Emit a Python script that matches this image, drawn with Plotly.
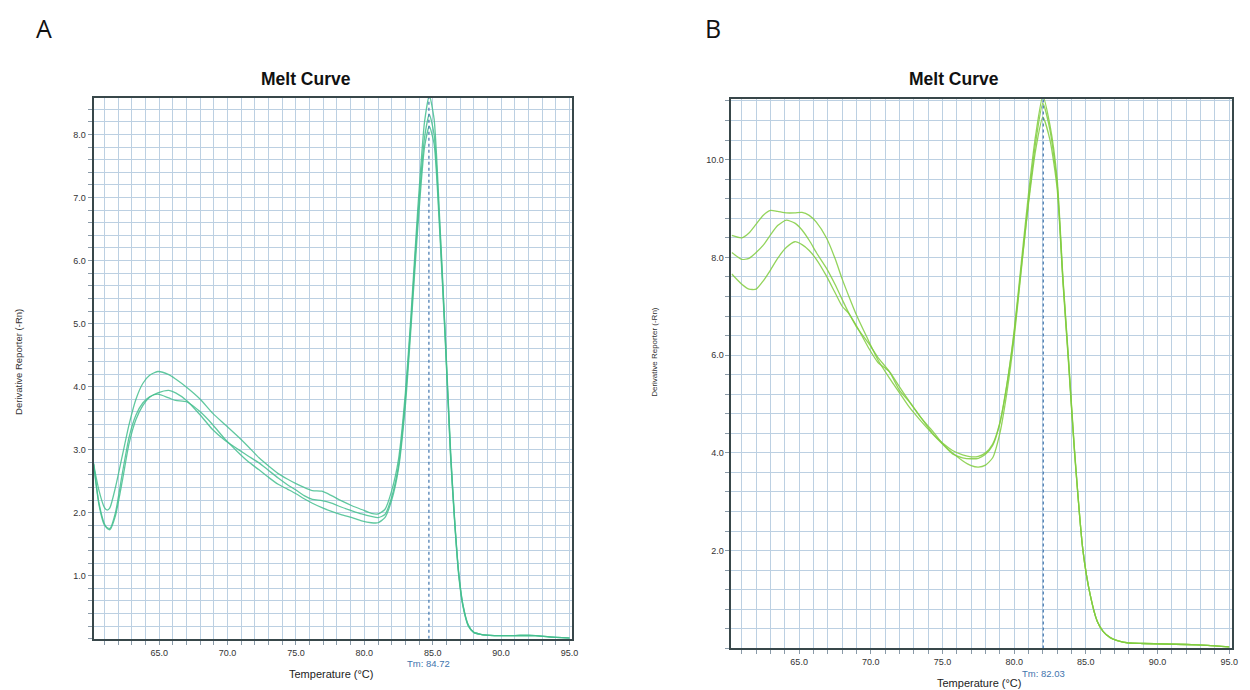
import plotly.graph_objects as go

# ---------------- data ----------------
a_temp = [60.2, 60.6, 61.0, 61.2, 61.4, 61.8, 62.3, 62.8, 63.3, 63.8, 64.3, 64.9, 65.7, 66.2, 67.0,
          68.0, 68.9, 69.8, 70.8, 71.5, 72.3, 73.0, 73.7, 74.4, 75.0, 75.6, 76.2, 76.9, 77.6, 78.3,
          79.1, 79.8, 80.5, 81.0, 81.5, 82.0, 82.5, 83.0, 83.4, 83.9, 84.4, 84.75, 85.1, 85.5, 85.9,
          86.3, 86.6, 86.9, 87.2, 87.6, 88.0, 88.5, 89.5, 91.0, 92.5, 93.5, 95.0]
a_well_1 = [2.78, 2.35, 2.08, 2.04, 2.08, 2.40, 2.90, 3.40, 3.80, 4.05, 4.18, 4.24, 4.19, 4.12, 3.99,
            3.80, 3.58, 3.40, 3.20, 3.05, 2.87, 2.74, 2.62, 2.53, 2.46, 2.40, 2.35, 2.34, 2.27, 2.19,
            2.11, 2.05, 1.99, 1.98, 2.05, 2.35, 2.85, 3.90, 5.10, 6.80, 8.20, 8.62, 8.25, 6.70, 4.90,
            3.00, 1.90, 1.05, 0.55, 0.22, 0.10, 0.07, 0.05, 0.05, 0.05, 0.03, 0.01]
a_well_2 = [2.78, 2.15, 1.82, 1.75, 1.73, 1.95, 2.50, 3.10, 3.48, 3.70, 3.83, 3.90, 3.94, 3.90, 3.78,
            3.55, 3.32, 3.15, 3.00, 2.90, 2.79, 2.67, 2.55, 2.44, 2.36, 2.27, 2.21, 2.19, 2.15, 2.09,
            2.03, 1.98, 1.94, 1.92, 1.97, 2.25, 2.75, 3.80, 5.00, 6.65, 7.95, 8.32, 8.00, 6.60, 4.85,
            2.95, 1.88, 1.03, 0.54, 0.21, 0.10, 0.07, 0.05, 0.05, 0.05, 0.03, 0.01]
a_well_3 = [2.78, 2.12, 1.80, 1.76, 1.75, 2.00, 2.62, 3.20, 3.55, 3.74, 3.84, 3.88, 3.82, 3.78, 3.76,
            3.60, 3.40, 3.17, 2.95, 2.81, 2.68, 2.56, 2.45, 2.37, 2.30, 2.22, 2.15, 2.08, 2.02, 1.97,
            1.92, 1.87, 1.84, 1.84, 1.92, 2.20, 2.70, 3.70, 4.90, 6.50, 7.80, 8.13, 7.85, 6.50, 4.80,
            2.90, 1.85, 1.00, 0.52, 0.20, 0.10, 0.07, 0.05, 0.05, 0.05, 0.03, 0.01]

b_temp = [60.3, 61.0, 61.5, 62.0, 62.5, 63.0, 63.5, 64.1, 64.7, 65.2, 65.7, 66.2, 66.9, 67.5, 68.0,
          68.5, 69.0, 69.9, 70.5, 71.3, 72.0, 72.7, 73.5, 74.3, 75.0, 75.7, 76.4, 77.0, 77.5, 78.0,
          78.5, 79.0, 79.5, 80.0, 80.5, 81.0, 81.5, 82.0, 82.5, 83.0, 83.4, 83.8, 84.2, 84.8, 85.3,
          85.8, 86.2, 86.7, 87.2, 88.0, 89.0, 90.5, 92.0, 93.5, 95.0]
b_well_1 = [8.45, 8.40, 8.50, 8.68, 8.86, 8.96, 8.94, 8.91, 8.91, 8.92, 8.86, 8.72, 8.40, 7.98, 7.56,
            7.18, 6.82, 6.26, 5.90, 5.53, 5.23, 4.93, 4.65, 4.39, 4.18, 3.98, 3.90, 3.88, 3.89, 3.97,
            4.15, 4.60, 5.40, 6.50, 7.90, 9.30, 10.50, 11.30, 10.70, 9.60, 7.60, 5.90, 4.10, 2.00, 1.10,
            0.55, 0.35, 0.22, 0.16, 0.11, 0.10, 0.09, 0.08, 0.06, 0.03]
b_well_2 = [8.10, 7.96, 7.98, 8.10, 8.25, 8.46, 8.65, 8.76, 8.70, 8.56, 8.35, 8.10, 7.78, 7.45, 7.14,
            6.84, 6.60, 6.12, 5.85, 5.66, 5.35, 5.05, 4.72, 4.40, 4.20, 4.05, 3.96, 3.92, 3.93, 4.00,
            4.18, 4.62, 5.42, 6.45, 7.80, 9.10, 10.20, 10.87, 10.40, 9.40, 7.50, 5.80, 4.05, 2.00, 1.10,
            0.55, 0.35, 0.22, 0.16, 0.11, 0.10, 0.09, 0.08, 0.06, 0.03]
b_well_3 = [7.66, 7.45, 7.35, 7.35, 7.52, 7.74, 7.98, 8.20, 8.32, 8.26, 8.14, 7.96, 7.62, 7.28, 7.00,
            6.84, 6.58, 6.22, 5.95, 5.66, 5.28, 5.04, 4.72, 4.45, 4.19, 4.00, 3.84, 3.74, 3.71, 3.75,
            3.90, 4.40, 5.25, 6.35, 7.75, 9.15, 10.35, 11.15, 10.60, 9.50, 7.55, 5.85, 4.08, 2.00, 1.10,
            0.55, 0.35, 0.22, 0.16, 0.11, 0.10, 0.09, 0.08, 0.06, 0.03]

tm_a = 84.72
tm_b = 82.03
x_ticks = [65.0, 70.0, 75.0, 80.0, 85.0, 90.0, 95.0]
a_y_ticks = [1.0, 2.0, 3.0, 4.0, 5.0, 6.0, 7.0, 8.0]
b_y_ticks = [2.0, 4.0, 6.0, 8.0, 10.0]
a_y_max = 8.58
b_y_max = 11.24

# ---------------- figure ----------------
W, H = 1250, 690
A_COLOR = "rgba(68,190,142,0.85)"
B_COLOR = "rgba(128,204,62,0.85)"
GRID = "#bcd0e2"
AXLINE = "#38474a"
TM_COLOR = "#3f74ad"
FONT = "Liberation Sans, Arial, sans-serif"

fig = go.Figure()

for vals in (a_well_1, a_well_2, a_well_3):
    fig.add_trace(go.Scatter(x=a_temp, y=vals, mode="lines", xaxis="x", yaxis="y",
                             line=dict(color=A_COLOR, width=1.3, shape="spline", smoothing=0.6),
                             showlegend=False, hoverinfo="skip"))
for vals in (b_well_1, b_well_2, b_well_3):
    fig.add_trace(go.Scatter(x=b_temp, y=vals, mode="lines", xaxis="x2", yaxis="y2",
                             line=dict(color=B_COLOR, width=1.3, shape="spline", smoothing=0.6),
                             showlegend=False, hoverinfo="skip"))

# Tm lines
fig.add_trace(go.Scatter(x=[tm_a, tm_a], y=[0, a_y_max], mode="lines", xaxis="x", yaxis="y",
                         line=dict(color=TM_COLOR, width=1.2, dash="dot"), showlegend=False,
                         hoverinfo="skip"))
fig.add_trace(go.Scatter(x=[tm_b, tm_b], y=[0, b_y_max], mode="lines", xaxis="x2", yaxis="y2",
                         line=dict(color=TM_COLOR, width=1.2, dash="dot"), showlegend=False,
                         hoverinfo="skip"))


def px_x(p):
    return p / W


def px_y(p):
    return 1 - p / H


tickfont = dict(family=FONT, size=9, color="#333333")


def xaxis_cfg(left, right, xr, anchor):
    return dict(domain=[px_x(left), px_x(right)], range=xr, anchor=anchor,
                tickmode="array", tickvals=x_ticks, ticktext=[f"{v:.1f}" for v in x_ticks],
                tickfont=tickfont, ticks="outside", ticklen=4, tickcolor="#8a9aa8",
                ticklabeloverflow="allow",
                showgrid=True, gridcolor=GRID, gridwidth=1,
                minor=dict(tickmode="linear", tick0=60, dtick=1, showgrid=True, gridcolor=GRID,
                           gridwidth=1, ticks="outside", ticklen=4, tickcolor="#8a9aa8"),
                showline=True, linecolor=AXLINE, linewidth=2, mirror=True, zeroline=False)


def yaxis_cfg(bottom, top, yr, ticks, minor_dt, anchor):
    return dict(domain=[px_y(bottom), px_y(top)], range=yr, anchor=anchor,
                tickmode="array", tickvals=ticks, ticktext=[f"{v:.1f}" for v in ticks],
                tickfont=tickfont, ticks="outside", ticklen=4, tickcolor="#8a9aa8",
                showgrid=True, gridcolor=GRID, gridwidth=1,
                minor=dict(tickmode="linear", tick0=0, dtick=minor_dt, showgrid=True,
                           gridcolor=GRID, gridwidth=1, ticks="outside", ticklen=4,
                           tickcolor="#8a9aa8"),
                showline=True, linecolor=AXLINE, linewidth=2, mirror=True, zeroline=False)


fig.update_layout(
    width=W, height=H,
    margin=dict(l=0, r=0, t=0, b=0),
    paper_bgcolor="white", plot_bgcolor="white",
    font=dict(family=FONT, color="#333333"),
    xaxis=xaxis_cfg(94, 575, [60.2, 95.2], "y"),
    yaxis=yaxis_cfg(638.7, 98, [0, a_y_max], a_y_ticks, 0.2, "x"),
    xaxis2=xaxis_cfg(735, 1238, [60.28, 95.2], "y2"),
    yaxis2=yaxis_cfg(648.4, 99, [0, b_y_max], b_y_ticks, 0.4, "x2"),
)


def label(text, x, y, size, color="#333333", family=FONT, angle=0, xref="paper"):
    return dict(text=text, x=x, y=px_y(y), xref=xref, yref="paper", showarrow=False,
                xanchor="center", yanchor="middle", textangle=angle,
                font=dict(family=family, size=size, color=color))


ann = [
    label("A", px_x(44), 28, 25, "#111111", "Open Sans, sans-serif"),
    label("B", px_x(716), 28, 25, "#111111", "Open Sans, sans-serif"),
    label("<b>Melt Curve</b>", px_x(307), 79, 17.5, "#111111"),
    label("<b>Melt Curve</b>", px_x(959), 79, 17.5, "#111111"),
    label("Derivative Reporter (-Rn)", px_x(18), 362, 9.5, angle=-90),
    label("Derivative Reporter (-Rn)", px_x(657), 352, 8, angle=-90),
    label("Temperature (°C)", px_x(333), 674, 11, "#222222"),
    label("Temperature (°C)", px_x(984), 683, 11, "#222222"),
    label(f"Tm: {tm_a:.2f}", tm_a, 663, 9.5, TM_COLOR, xref="x"),
    label(f"Tm: {tm_b:.2f}", tm_b, 673, 9.5, TM_COLOR, xref="x2"),
]

fig.update_layout(annotations=ann)

# remove the default 8px body margin so the figure fills the 1250x690 window exactly
fig.write_html("out.html",
               config={"displayModeBar": False, "staticPlot": True},
               post_script="document.body.style.margin='0';document.body.style.overflow='hidden';")
